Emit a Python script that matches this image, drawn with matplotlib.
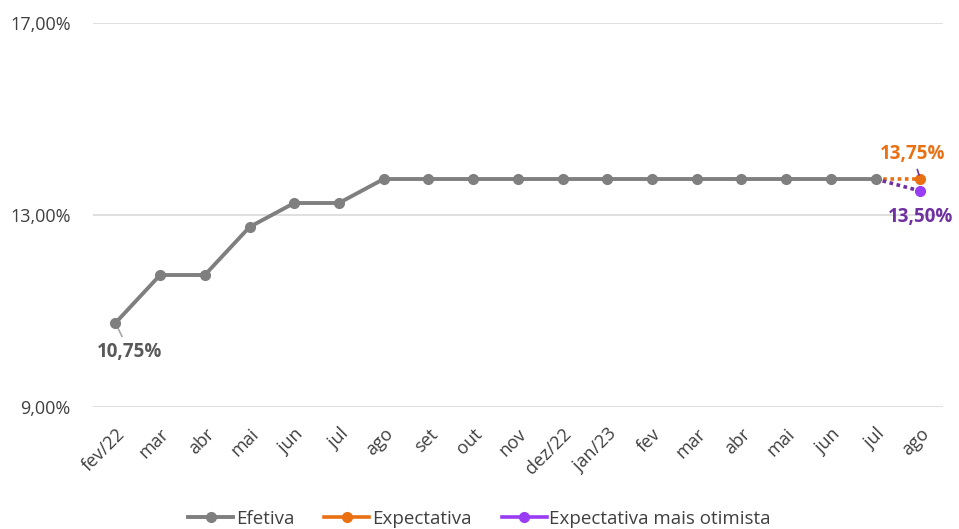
import matplotlib; matplotlib.use('Agg')
import matplotlib.pyplot as plt
from matplotlib.ticker import FuncFormatter

meses = ['fev/22', 'mar', 'abr', 'mai', 'jun', 'jul', 'ago', 'set', 'out', 'nov',
         'dez/22', 'jan/23', 'fev', 'mar', 'abr', 'mai', 'jun', 'jul', 'ago']
efetiva = [10.75, 11.75, 11.75, 12.75, 13.25, 13.25, 13.75, 13.75, 13.75, 13.75,
           13.75, 13.75, 13.75, 13.75, 13.75, 13.75, 13.75, 13.75]
expectativa = [13.75, 13.75]      # jul -> ago
otimista = [13.75, 13.50]         # jul -> ago

plt.rcParams['font.family'] = ['Open Sans', 'DejaVu Sans']
CINZA = '#7f7f7f'
LARANJA = '#e97113'
ROXO = '#9b3cf5'
ROXO_ESC = '#7030a0'

fig = plt.figure(figsize=(9.59, 5.29), dpi=100)
ax = fig.add_axes([0.097, 0.2306, 0.886, 0.7259])

x = list(range(len(meses)))
xe = x[len(efetiva) - 1:]

ax.plot(xe, expectativa, ls=(0, (1, 1)), color=LARANJA, lw=2.6, marker='o', ms=7,
        markevery=[1], zorder=3, label='Expectativa')
ax.plot(xe, otimista, ls=(0, (1, 1)), color=ROXO_ESC, lw=2.6, marker='o', ms=7,
        mfc=ROXO, mec=ROXO, markevery=[1], zorder=3, label='Expectativa mais otimista')
ax.plot(x[:len(efetiva)], efetiva, '-o', color=CINZA, lw=2.8, ms=7, zorder=4, label='Efetiva')

def pct(v):
    return f'{v:.2f}'.replace('.', ',') + '%'

ax.annotate(pct(efetiva[0]), xy=(x[0], efetiva[0]), xytext=(x[0] + 0.32, efetiva[0] - 0.6),
            ha='center', va='center', fontsize=13.5, fontweight='bold', color='#595959',
            arrowprops=dict(arrowstyle='-', color='#a6a6a6', lw=1.2, shrinkA=2, shrinkB=2))
ax.annotate(pct(expectativa[1]), xy=(xe[1], expectativa[1]), xytext=(xe[1] - 0.18, expectativa[1] + 0.52),
            ha='center', va='center', fontsize=13.5, fontweight='bold', color=LARANJA,
            arrowprops=dict(arrowstyle='-', color=ROXO_ESC, lw=1.2, shrinkA=2, shrinkB=3))
ax.text(xe[1] + 0.0, otimista[1] - 0.55, pct(otimista[1]), ha='center', va='center',
        fontsize=13.5, fontweight='bold', color=ROXO_ESC)

ax.set_xlim(-0.5, len(meses) - 0.5)
ax.set_ylim(9, 17)
ax.set_yticks([9, 13, 17])
ax.yaxis.set_major_formatter(FuncFormatter(lambda v, p: pct(v)))
ax.set_xticks(x)
ax.set_xticklabels(meses, rotation=45, ha='right', rotation_mode='anchor')
ax.tick_params(axis='both', length=0, labelsize=13, colors='#404040')
ax.tick_params(axis='x', pad=13)
ax.tick_params(axis='y', pad=16)
ax.grid(axis='y', color='#d9d9d9', lw=1.2)
ax.set_axisbelow(True)
for s in ax.spines.values():
    s.set_visible(False)

h, l = ax.get_legend_handles_labels()
order = [2, 0, 1]
leg = fig.legend([h[i] for i in order], [l[i] for i in order], loc='lower center',
                 bbox_to_anchor=(0.5, -0.03), ncol=3, frameon=False, fontsize=13.5,
                 handlelength=2.4, handletextpad=0.15, columnspacing=1.6,
                 labelcolor='#404040')
for lh, c in zip(leg.get_lines(), [CINZA, LARANJA, ROXO]):
    lh.set_linestyle('-')
    lh.set_color(c)

fig.savefig('out.png', dpi=100)
